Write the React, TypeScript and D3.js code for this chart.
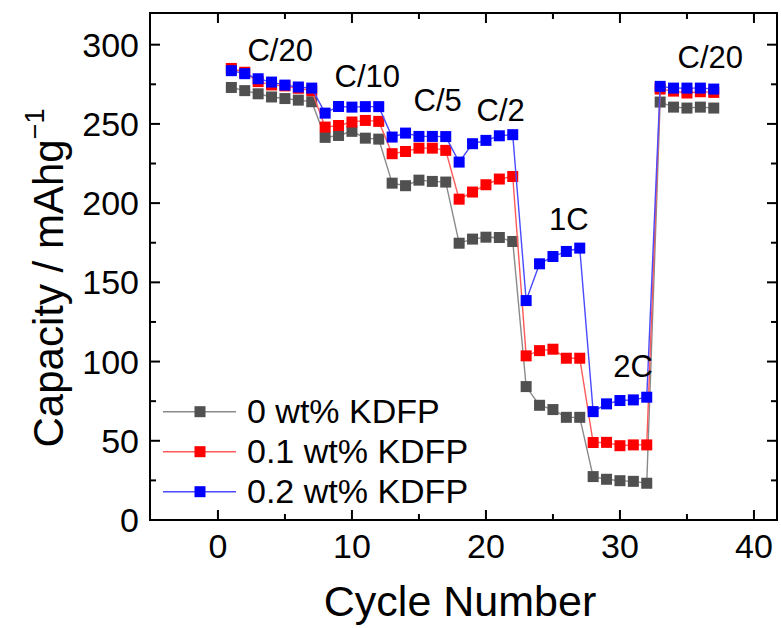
import React from "react";
import * as d3 from "d3";

const cycles = [1,2,3,4,5,6,7,8,9,10,11,12,13,14,15,16,17,18,19,20,21,22,23,24,25,26,27,28,29,30,31,32,33,34,35,36,37];
const gray = [273, 271, 269, 267, 266, 265, 264, 241.5, 242.7, 245.3, 241, 240.4, 212.6, 211, 214.5, 213.7, 213.3, 174.7, 177.3, 178.5, 178.3, 175.8, 84.2, 72.4, 69.7, 64.8, 64.8, 27.4, 25.7, 24.8, 24.4, 23.2, 263.8, 260.6, 260, 260.6, 260];
const red = [285, 282.6, 276.7, 274.6, 274, 272.5, 271, 248, 249, 251.2, 252.2, 251.6, 231.2, 232.6, 234.7, 234.7, 233.3, 202.5, 207, 211.6, 215.2, 216.8, 103.6, 106.9, 107.8, 102.1, 102.1, 48.9, 49, 46.9, 47.4, 47.4, 272, 270.7, 269.5, 270.3, 269.9];
const blue = [283.6, 281.7, 278.5, 276.4, 274.5, 273.3, 272.6, 256.8, 261, 260.6, 260.9, 260.9, 241.7, 244.2, 242.1, 242.1, 242, 225.9, 237.5, 239.6, 242.5, 243.2, 138.5, 161.7, 166.3, 169.5, 171.6, 68.4, 73.3, 75.4, 75.8, 77.5, 273.7, 272.6, 272.6, 272.6, 272];

const seriesNames = ["0 wt% KDFP", "0.1 wt% KDFP", "0.2 wt% KDFP"];
const markerColors = ["#505050", "#ff0000", "#0000ff"];
const lineColors = ["#8a8a8a", "#ff5a5a", "#4a4aff"];

const xMajor = [0, 10, 20, 30, 40];
const xMinor = [5, 15, 25, 35];
const yMajor = [0, 50, 100, 150, 200, 250, 300];
const yMinor = [25, 75, 125, 175, 225, 275];

const rateLabels = ["C/20", "C/10", "C/5", "C/2", "1C", "2C", "C/20"];
const rateLabelCycle = [2.2, 8.7, 14.6, 19.3, 24.7, 29.5, 34.3];
const rateLabelValue = [290, 273, 258, 252, 183, 90, 285];

const FONT = "'Liberation Sans', Arial, Helvetica, sans-serif";

export default function App() {
  const W = 781, H = 628;
  const L = 150, R = 777, T = 13, B = 520;
  const x = d3.scaleLinear().domain([-5.07, 41.72]).range([L, R]);
  const y = d3.scaleLinear().domain([0, 320]).range([B, T]);
  const data = [gray, red, blue];
  const line = d3.line<number>().x((_, i) => x(cycles[i])).y((d) => y(d));
  const ms = 11;

  return (
    <svg width={W} height={H} style={{ position: "absolute", left: 0, top: 0, background: "#fff" }} fontFamily={FONT}>
      <rect x={0} y={0} width={W} height={H} fill="#fff" />
      {data.map((s, k) => (
        <g key={k}>
          <path d={line(s) || ""} fill="none" stroke={lineColors[k]} strokeWidth={1.4} />
          {s.map((v, i) => (
            <rect key={i} x={x(cycles[i]) - ms / 2} y={y(v) - ms / 2} width={ms} height={ms} fill={markerColors[k]} />
          ))}
        </g>
      ))}
      {/* frame */}
      <rect x={L} y={T} width={R - L} height={B - T} fill="none" stroke="#000" strokeWidth={2} />
      {/* x ticks */}
      {xMajor.map((t) => (
        <g key={"xm" + t}>
          <line x1={x(t)} x2={x(t)} y1={B} y2={B - 10} stroke="#000" strokeWidth={2} />
          <line x1={x(t)} x2={x(t)} y1={T} y2={T + 10} stroke="#000" strokeWidth={2} />
          <text x={x(t)} y={558} fontSize={34} textAnchor="middle" fill="#000">{t}</text>
        </g>
      ))}
      {xMinor.map((t) => (
        <g key={"xn" + t}>
          <line x1={x(t)} x2={x(t)} y1={B} y2={B - 6} stroke="#000" strokeWidth={2} />
          <line x1={x(t)} x2={x(t)} y1={T} y2={T + 6} stroke="#000" strokeWidth={2} />
        </g>
      ))}
      {yMajor.map((t) => (
        <g key={"ym" + t}>
          <line x1={L} x2={L + 10} y1={y(t)} y2={y(t)} stroke="#000" strokeWidth={2} />
          <line x1={R} x2={R - 10} y1={y(t)} y2={y(t)} stroke="#000" strokeWidth={2} />
          <text x={139} y={y(t) + 12} fontSize={34} textAnchor="end" fill="#000">{t}</text>
        </g>
      ))}
      {yMinor.map((t) => (
        <g key={"yn" + t}>
          <line x1={L} x2={L + 6} y1={y(t)} y2={y(t)} stroke="#000" strokeWidth={2} />
          <line x1={R} x2={R - 6} y1={y(t)} y2={y(t)} stroke="#000" strokeWidth={2} />
        </g>
      ))}
      {/* axis titles */}
      <text x={460} y={616} fontSize={43} textAnchor="middle" fill="#000">Cycle Number</text>
      <text transform="translate(63,278) rotate(-90)" fontSize={42} textAnchor="middle" fill="#000">
        Capacity / mAhg<tspan fontSize={27} dy={-19}>−1</tspan>
      </text>
      {/* rate labels */}
      {rateLabels.map((lab, i) => (
        <text key={"r" + i} x={x(rateLabelCycle[i])} y={y(rateLabelValue[i])} fontSize={31} fill="#000">{lab}</text>
      ))}
      {/* legend */}
      {seriesNames.map((n, k) => {
        const ly = 411.7 + k * 40;
        return (
          <g key={"lg" + k}>
            <line x1={163} x2={236} y1={ly} y2={ly} stroke={lineColors[k]} strokeWidth={1.4} />
            <rect x={200 - ms / 2} y={ly - ms / 2} width={ms} height={ms} fill={markerColors[k]} />
            <text x={247} y={ly + 11} fontSize={34} fill="#000">{n}</text>
          </g>
        );
      })}
    </svg>
  );
}
